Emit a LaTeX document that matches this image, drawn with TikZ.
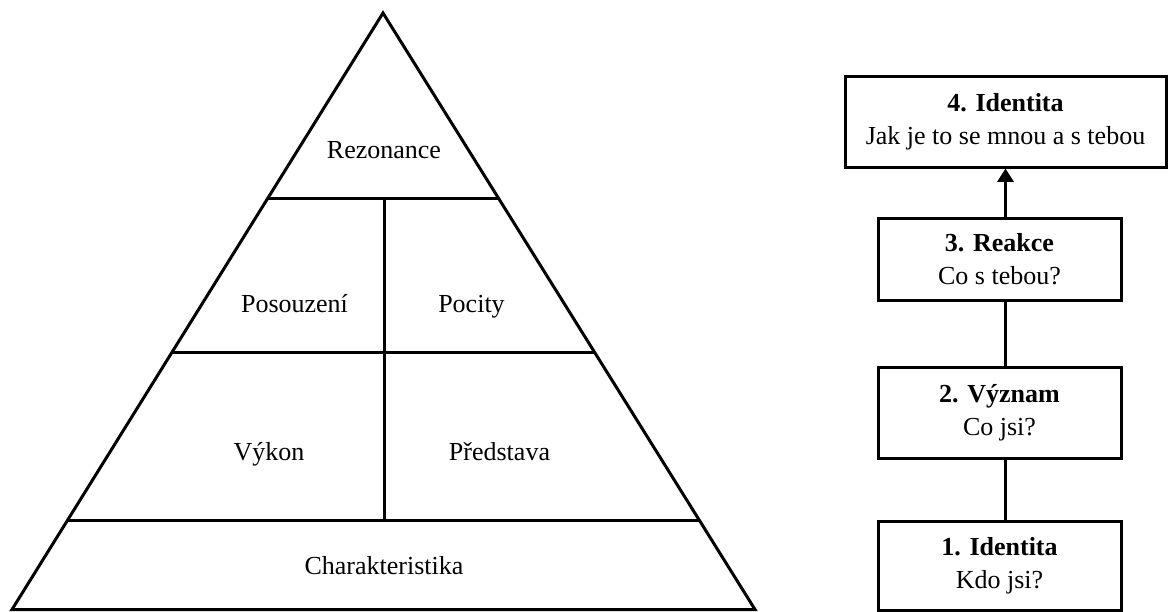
\documentclass[tikz,border=0pt]{standalone}
\usepackage{fontspec}
\setmainfont{Liberation Serif}
\usetikzlibrary{arrows.meta,calc}
\begin{document}
\begin{tikzpicture}[x=0.75pt,y=-0.75pt,
  ln/.style={line width=2.25pt},
  lbl/.style={font=\fontsize{19.5}{22.5}\selectfont, anchor=base, inner sep=0pt},
  box/.style={draw, line width=2.25pt, fill=white, align=center, inner sep=0pt,
    font=\fontsize{19.5}{25}\selectfont},
  link/.style={line width=2.25pt}
]
\useasboundingbox (0,0) rectangle (1168,611);
% pyramid
\coordinate (apex) at (383,13);
\coordinate (bl) at (12,609.5);
\coordinate (br) at (755,609.5);
\draw[ln, line join=miter] (bl) -- (apex) -- (br) -- cycle;
\coordinate (l1) at ($(apex)!0.3117!(bl)$);
\coordinate (r1) at ($(apex)!0.3117!(br)$);
\coordinate (l2) at ($(apex)!0.5697!(bl)$);
\coordinate (r2) at ($(apex)!0.5697!(br)$);
\coordinate (l3) at ($(apex)!0.8511!(bl)$);
\coordinate (r3) at ($(apex)!0.8511!(br)$);
\draw[ln] (l1) -- (r1);
\draw[ln] (l2) -- (r2);
\draw[ln] (l3) -- (r3);
\coordinate (vt) at (384,0 |- l1);
\draw[ln] (vt) -- (vt |- l3);
% labels
\node[lbl] (rez) at (384,158) {Rezonance};
\node[lbl] (pos) at (294.5,312) {Posouzení};
\node[lbl] (poc) at (471.5,312) {Pocity};
\node[lbl] (vyk) at (269,460) {Výkon};
\node[lbl] (pre) at (499.5,460) {Představa};
\node[lbl] (cha) at (384,574) {Charakteristika};
% boxes
\node[box, minimum width=240.75pt, minimum height=68.25pt] (b4) at (1005.5,121.5)
  {\textbf{4. Identita}\\Jak je to se mnou a s tebou};
\node[box, minimum width=182.25pt, minimum height=61.5pt] (b3) at (999.5,259)
  {\textbf{3. Reakce}\\Co s tebou?};
\node[box, minimum width=182.25pt, minimum height=68.25pt] (b2) at (999.5,412.5)
  {\textbf{2. Význam}\\Co jsi?};
\node[box, minimum width=182.25pt, minimum height=66.75pt] (b1) at (999.5,565.5)
  {\textbf{1. Identita}\\Kdo jsi?};
% connectors
\draw[link, -{Triangle[width=12pt,length=10pt]}] (b3.north -| b4.south) -- (b4.south);
\draw[link] (b2.north -| b4.south) -- (b3.south -| b4.south);
\draw[link] (b1.north -| b4.south) -- (b2.south -| b4.south);
\end{tikzpicture}
\end{document}
